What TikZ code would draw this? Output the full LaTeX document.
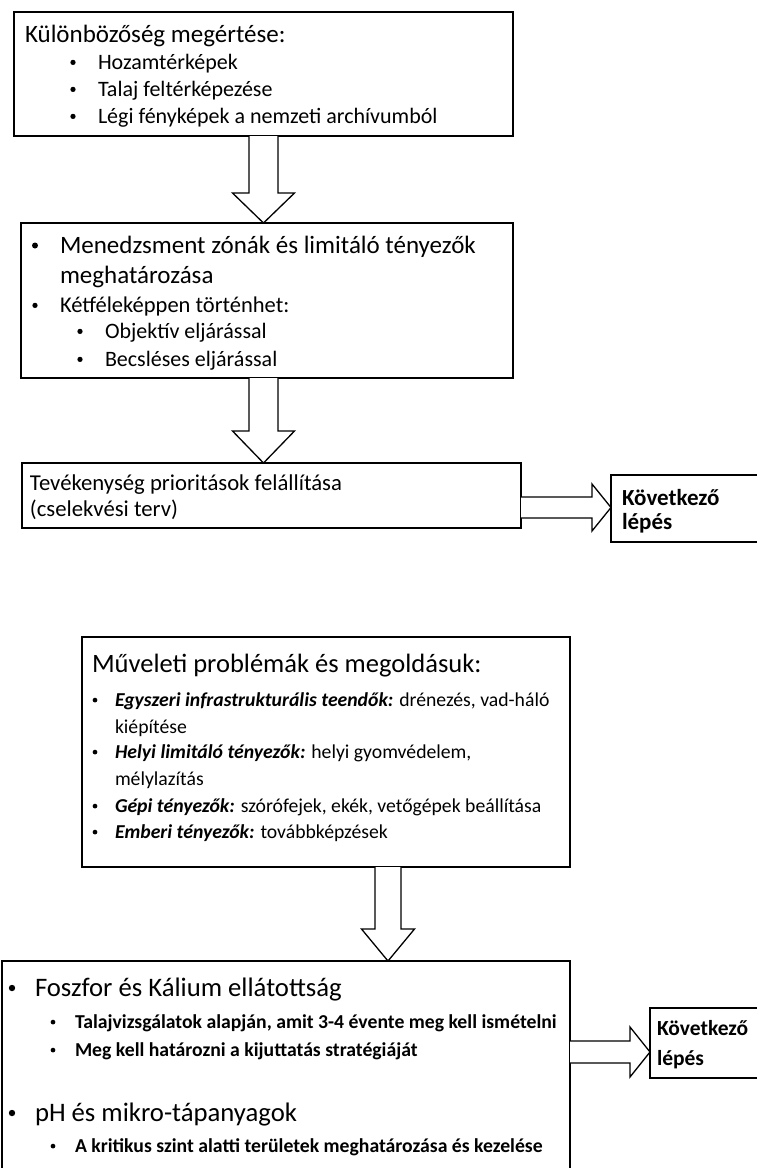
\documentclass[tikz,border=0pt]{standalone}
\usepackage{fontspec}
\setmainfont{Carlito}
\usetikzlibrary{calc}

\tikzset{
  box/.style={draw, line width=1.6pt, rectangle, inner sep=0pt, outer sep=0pt, anchor=north west},
  txt/.style={anchor=base west, inner sep=0pt, outer sep=0pt},
  dot/.style={circle, fill=black, inner sep=0pt, outer sep=0pt},
  blockarrow/.style={draw, line width=1.3pt, fill=white, line join=miter},
}
\newcommand{\fs}[1]{\fontsize{#1}{#1}\selectfont}

% round bullet: name, x, text baseline, text size
\newcommand{\bul}[4]{%
  \pgfmathsetmacro\bulY{#3-0.3*#4}%
  \pgfmathsetmacro\bulD{0.24*#4}%
  \node[dot, minimum size=\bulD pt] (#1) at (#2,\bulY) {};}

% hollow block arrow pointing down: start, tip, shaft half width, head half width, head length
\newcommand{\blockdown}[5]{%
  \draw[blockarrow] ($(#1)+(-#3,0)$) -- ($(#2)+(-#3,-#5)$) -- ($(#2)+(-#4,-#5)$) -- (#2)
    -- ($(#2)+(#4,-#5)$) -- ($(#2)+(#3,-#5)$) -- ($(#1)+(#3,0)$);}
% hollow block arrow pointing right
\newcommand{\blockright}[5]{%
  \draw[blockarrow] ($(#1)+(0,-#3)$) -- ($(#2)+(-#5,-#3)$) -- ($(#2)+(-#5,-#4)$) -- (#2)
    -- ($(#2)+(-#5,#4)$) -- ($(#2)+(-#5,#3)$) -- ($(#1)+(0,#3)$);}

\begin{document}
\begin{tikzpicture}[x=1pt, y=-1pt]
\clip (0,0) rectangle (757,1168);

% boxes
\node[box, minimum width=499pt, minimum height=124pt] (b1) at (14,12) {};
\node[box, minimum width=492pt, minimum height=155pt] (b2) at (21,223) {};
\node[box, minimum width=499pt, minimum height=65pt]  (b3) at (22,463) {};
\node[box, minimum width=160pt, minimum height=67pt]  (n1) at (611,475) {};
\node[box, minimum width=488pt, minimum height=230pt] (b4) at (82,637) {};
\node[box, minimum width=568pt, minimum height=230pt] (b5) at (2,961) {};
\node[box, minimum width=120pt, minimum height=70pt]  (n2) at (650,1008) {};

% guide coordinates for the arrows
\coordinate (colA) at (263.5,0);
\coordinate (colB) at (388,0);
\coordinate (rowA) at (0,507.5);
\coordinate (rowB) at (0,1052);

\coordinate (a1s) at (b1.south -| colA);
\coordinate (a1e) at (b2.north -| colA);
\coordinate (a2s) at (b2.south -| colA);
\coordinate (a2e) at (b3.north -| colA);
\coordinate (a3s) at (b4.south -| colB);
\coordinate (a3e) at (b5.north -| colB);
\coordinate (r1s) at (b3.east |- rowA);
\coordinate (r1e) at (n1.west |- rowA);
\coordinate (r2s) at (b5.east |- rowB);
\coordinate (r2e) at (n2.west |- rowB);

\blockdown{a1s}{a1e}{14.5}{31}{30}
\blockdown{a2s}{a2e}{14.5}{31}{32}
\blockdown{a3s}{a3e}{13}{26.5}{32}
\blockright{r1s}{r1e}{10.5}{23.5}{19}
\blockright{r2s}{r2e}{11}{25}{20}

% first box
\node[txt, font=\fs{25}] (t1) at (25,42) {Különbözőség megértése:};
\bul{t1b1}{73}{69}{22}
\node[txt, font=\fs{22}] (t1l1) at (98,69) {Hozamtérképek};
\bul{t1b2}{73}{96}{22}
\node[txt, font=\fs{22}] (t1l2) at (98,96) {Talaj feltérképezése};
\bul{t1b3}{73}{123}{22}
\node[txt, font=\fs{22}] (t1l3) at (98,123) {Légi fényképek a nemzeti archívumból};

% second box
\bul{t2b1}{35}{253}{25}
\node[txt, font=\fs{25}] (t2l1) at (60,253) {Menedzsment zónák és limitáló tényezők};
\node[txt, font=\fs{25}] (t2l2) at (60,283) {meghatározása};
\bul{t2b2}{35}{312}{22}
\node[txt, font=\fs{22.5}] (t2l3) at (60,312) {Kétféleképpen történhet:};
\bul{t2b3}{80}{338}{22}
\node[txt, font=\fs{22}] (t2l4) at (105,338) {Objektív eljárással};
\bul{t2b4}{80}{366}{22}
\node[txt, font=\fs{22}] (t2l5) at (105,366) {Becsléses eljárással};

% third box
\node[txt, font=\fs{22.7}] (t3l1) at (30,490) {Tevékenység prioritások felállítása};
\node[txt, font=\fs{22.7}] (t3l2) at (30,516) {(cselekvési terv)};

% next step boxes
\node[txt, font=\fs{23}\bfseries] (n1l1) at (622,505) {Következő};
\node[txt, font=\fs{23}\bfseries] (n1l2) at (622,529) {lépés};
\node[txt, font=\fs{21.5}\bfseries] (n2l1) at (657,1035) {Következő};
\node[txt, font=\fs{21.5}\bfseries] (n2l2) at (657,1065) {lépés};

% fourth box
\node[txt, font=\fs{26.5}] (t4) at (92,672) {Műveleti problémák és megoldásuk:};
\bul{t4b1}{95}{706}{19.7}
\node[txt, font=\fs{19.7}] (t4l1) at (115,706) {\textbf{\textit{Egyszeri infrastrukturális teendők:}} drénezés, vad-háló};
\node[txt, font=\fs{19.7}] (t4l2) at (115,733) {kiépítése};
\bul{t4b2}{95}{758}{19.7}
\node[txt, font=\fs{19.7}] (t4l3) at (115,758) {\textbf{\textit{Helyi limitáló tényezők:}} helyi gyomvédelem,};
\node[txt, font=\fs{19.7}] (t4l4) at (115,785) {mélylazítás};
\bul{t4b3}{95}{812}{19.7}
\node[txt, font=\fs{19.7}] (t4l5) at (115,812) {\textbf{\textit{Gépi tényezők:}} szórófejek, ekék, vetőgépek beállítása};
\bul{t4b4}{95}{838}{19.7}
\node[txt, font=\fs{19.7}] (t4l6) at (115,838) {\textbf{\textit{Emberi tényezők:}} továbbképzések};

% fifth box
\bul{t5b1}{12}{996}{26.7}
\node[txt, font=\fs{26.7}] (t5l1) at (35,996) {Foszfor és Kálium ellátottság};
\bul{t5b2}{53}{1028}{19.7}
\node[txt, font=\fs{19.7}\bfseries] (t5l2) at (75,1028) {Talajvizsgálatok alapján, amit 3-4 évente meg kell ismételni};
\bul{t5b3}{53}{1056}{19.7}
\node[txt, font=\fs{19.7}\bfseries] (t5l3) at (75,1056) {Meg kell határozni a kijuttatás stratégiáját};
\bul{t5b4}{12}{1121}{26.7}
\node[txt, font=\fs{26.7}] (t5l4) at (35,1121) {pH és mikro-tápanyagok};
\bul{t5b5}{53}{1152}{19.7}
\node[txt, font=\fs{19.7}\bfseries] (t5l5) at (75,1152) {A kritikus szint alatti területek meghatározása és kezelése};
\end{tikzpicture}
\end{document}
